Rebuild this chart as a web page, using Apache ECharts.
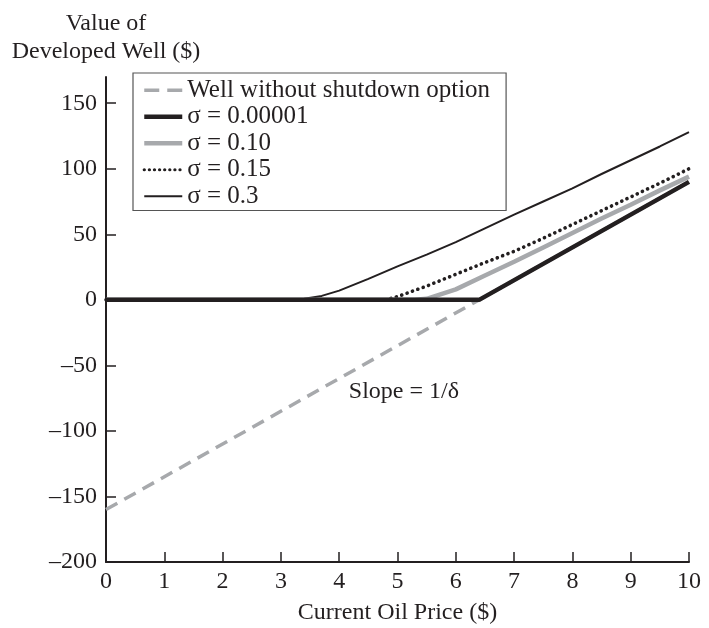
<!DOCTYPE html>
<html>
<head>
<meta charset="utf-8">
<script src="https://cdn.jsdelivr.net/npm/echarts@6/dist/echarts.min.js"></script>
<style>html,body{margin:0;padding:0;background:#fff}#c{width:709px;height:628px}</style>
</head>
<body>
<div id="c"></div>
<script>
// Data
const seriesNames = ['Well without shutdown option', 'σ = 0.00001', 'σ = 0.10', 'σ = 0.15', 'σ = 0.3'];

const priceNoShut = [0, 10];
const valueNoShut = [-160, 90];

const priceS00001 = [0, 6.4, 10];
const valueS00001 = [0, 0, 90];

const priceS10 = [0, 5.3, 5.5, 6, 6.5, 7, 7.5, 8, 8.5, 9, 9.5, 10];
const valueS10 = [0, 0, 0.8, 8, 18.5, 29, 40, 51, 62, 72.5, 83.5, 94];

const priceS15 = [0, 4.8, 5, 5.5, 6, 6.5, 7, 7.5, 8, 8.5, 9, 9.5, 10];
const valueS15 = [0, 0, 2.5, 10.5, 19.5, 28.5, 37, 47, 57.5, 68, 78.5, 89, 100];

const priceS30 = [0, 3.1, 3.4, 3.7, 4, 4.5, 5, 5.5, 6, 6.5, 7, 7.5, 8, 8.5, 9, 9.5, 10];
const valueS30 = [0, 0, 0.8, 3, 7, 16, 25.5, 34.5, 44, 54.5, 65, 75, 85, 96, 106.5, 117, 128];

const xTicks = [0, 1, 2, 3, 4, 5, 6, 7, 8, 9, 10];
const yTicks = [-200, -150, -100, -50, 0, 50, 100, 150];

const slopeLabel = 'Slope = 1/δ';
const slopeLabelPos = [5.11, -70];

function pairs(xs, ys) { return xs.map((x, i) => [x, ys[i]]); }

const FONT = '"Liberation Serif", "DejaVu Serif", serif';
const INK = '#231f20';
const GRAY = '#a7a9ac';

const styles = {
  noShut: {color: GRAY, width: 3.5, type: [13, 8]},
  s30: {color: INK, width: 2},
  s15: {color: INK, width: 3.6, type: [0.1, 5.6], cap: 'round'},
  s10: {color: GRAY, width: 4.5},
  s00001: {color: INK, width: 4.5}
};

const chart = echarts.init(document.getElementById('c'), null, {renderer: 'canvas'});
chart.setOption({
  animation: false,
  backgroundColor: '#fff',
  textStyle: {fontFamily: FONT, color: INK},
  grid: {left: 106, right: 20, top: 77, bottom: 66, containLabel: false, outerBoundsMode: 'none'},
  legend: {
    orient: 'vertical',
    left: 133, top: 73,
    padding: [4, 16, 1, 9],
    itemGap: 0,
    itemWidth: 38, itemHeight: 14,
    borderColor: '#555', borderWidth: 1.2, borderRadius: 0,
    backgroundColor: '#fff',
    itemStyle: {opacity: 0},
    textStyle: {fontFamily: FONT, fontSize: 25, lineHeight: 26.5, color: INK},
    data: [
      {name: seriesNames[0], lineStyle: {color: GRAY, width: 3.5, type: [15, 8]}},
      {name: seriesNames[1], lineStyle: {color: INK, width: 4.5}},
      {name: seriesNames[2], lineStyle: {color: GRAY, width: 4.5}},
      {name: seriesNames[3], lineStyle: {color: INK, width: 3.2, type: [0.1, 5], cap: 'round'}},
      {name: seriesNames[4], lineStyle: {color: INK, width: 2}}
    ]
  },
  xAxis: {
    type: 'value', min: 0, max: 10, interval: 1,
    name: 'Current Oil Price ($)', nameLocation: 'middle', nameGap: 39,
    nameTextStyle: {fontFamily: FONT, fontSize: 24, color: INK},
    axisLine: {onZero: false, lineStyle: {color: INK, width: 2}},
    axisTick: {inside: true, length: 10, lineStyle: {color: INK, width: 1.5}, customValues: xTicks},
    axisLabel: {fontFamily: FONT, fontSize: 24, color: INK, margin: 8, customValues: xTicks},
    splitLine: {show: false}
  },
  yAxis: {
    type: 'value', min: -200, max: 170,
    name: 'Value of\nDeveloped Well ($)', nameLocation: 'end', nameGap: 11,
    nameTextStyle: {fontFamily: FONT, fontSize: 24, color: INK, align: 'center', lineHeight: 28},
    axisLine: {onZero: false, lineStyle: {color: INK, width: 2}},
    axisTick: {inside: true, length: 10, lineStyle: {color: INK, width: 1.5}, customValues: yTicks},
    axisLabel: {fontFamily: FONT, fontSize: 24, color: INK, margin: 9, customValues: yTicks,
      formatter: v => String(v).replace('-', '\u2013')},
    splitLine: {show: false}
  },
  series: [
    {
      name: seriesNames[0], type: 'line', data: pairs(priceNoShut, valueNoShut),
      showSymbol: false, symbol: 'none', z: 1,
      lineStyle: styles.noShut, itemStyle: {color: GRAY},
      markPoint: {
        symbol: 'circle', symbolSize: 0, silent: true,
        data: [{coord: slopeLabelPos, value: slopeLabel}],
        label: {show: true, formatter: slopeLabel, fontFamily: FONT, fontSize: 24, color: INK, position: 'inside'}
      }
    },
    {
      name: seriesNames[4], type: 'line', data: pairs(priceS30, valueS30),
      showSymbol: false, symbol: 'none', z: 2,
      lineStyle: styles.s30, itemStyle: {color: INK}
    },
    {
      name: seriesNames[3], type: 'line', data: pairs(priceS15, valueS15),
      showSymbol: false, symbol: 'none', z: 3,
      lineStyle: styles.s15, itemStyle: {color: INK}
    },
    {
      name: seriesNames[2], type: 'line', data: pairs(priceS10, valueS10),
      showSymbol: false, symbol: 'none', z: 4,
      lineStyle: styles.s10, itemStyle: {color: GRAY}
    },
    {
      name: seriesNames[1], type: 'line', data: pairs(priceS00001, valueS00001),
      showSymbol: false, symbol: 'none', z: 5,
      lineStyle: styles.s00001, itemStyle: {color: INK}
    }
  ]
});
</script>
</body>
</html>
